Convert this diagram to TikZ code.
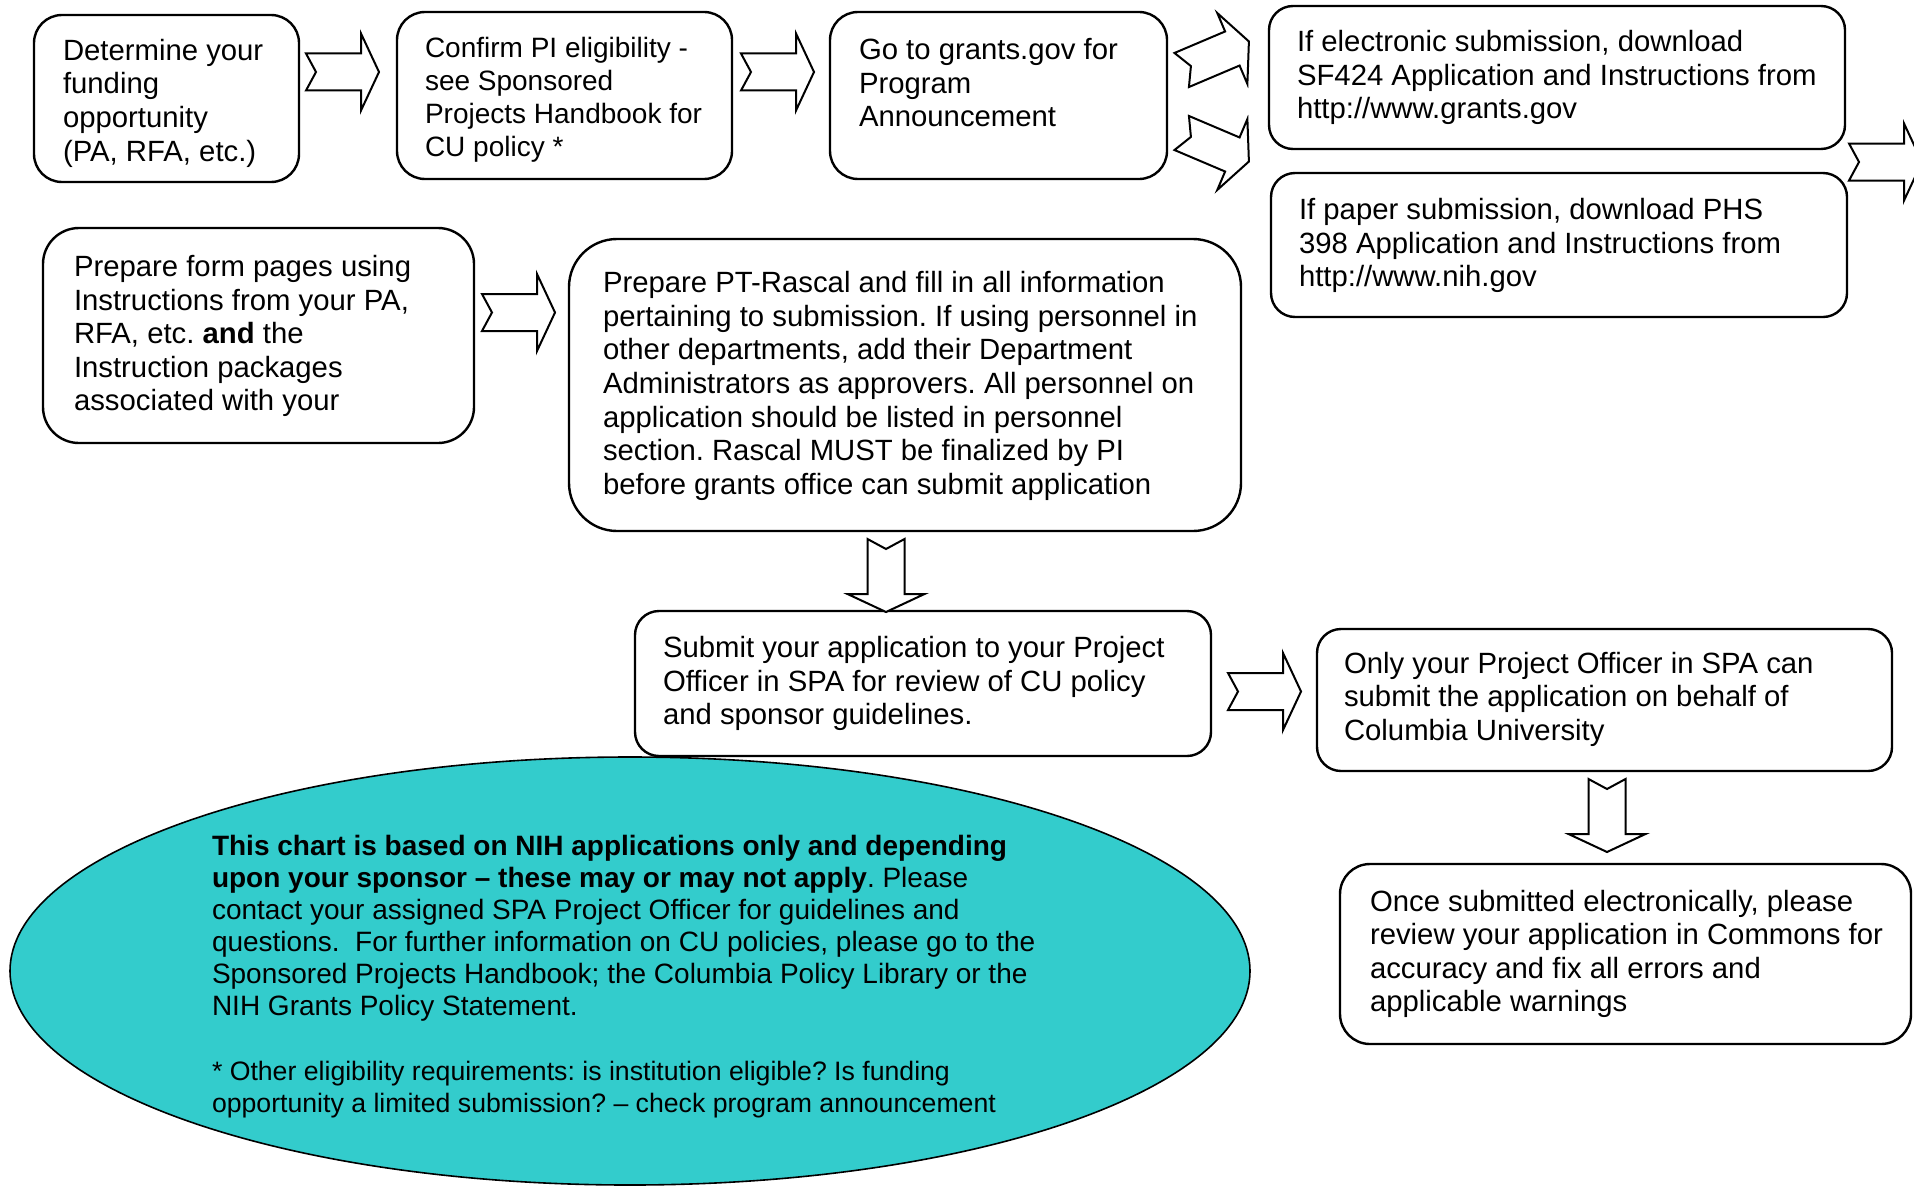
\documentclass[tikz,border=0pt]{standalone}
\usepackage{fontspec}
\setmainfont{Liberation Sans}
\usetikzlibrary{calc,fit,shapes.geometric}
\definecolor{noteteal}{RGB}{51,204,204}
\begin{document}
\frenchspacing
\begin{tikzpicture}[x=0.5pt,y=-0.5pt,
  box/.style={draw, line width=1.2pt, inner sep=0pt, outer sep=0pt},
  txt/.style={anchor=north west, inner sep=0pt, outer sep=0pt, align=left,
    font=\fontsize{14.65}{16.8}\selectfont},
  smalltxt/.style={txt, font=\fontsize{14}{16.5}\selectfont},
  notetxt/.style={anchor=north west, inner sep=0pt, outer sep=0pt, align=left,
    font=\fontsize{14}{15.95}\selectfont},
  foottxt/.style={notetxt, font=\fontsize{13.33}{15.9}\selectfont},
  blockarrow/.pic={\draw[line width=1pt, line join=miter, fill=white]
    (0,-18.5) -- (55,-18.5) -- (55,-38.5) -- (73,0) -- (55,38.5) -- (55,18.5)
    -- (0,18.5) -- (10,0) -- cycle;}]
\fill[white] (0,0) rectangle (1914,1188);
\useasboundingbox (0,0) rectangle (1914,1188);

% boxes
\node[box, rounded corners=14pt, fit={(34,15)(299,182)}] (b1) {};
\node[box, rounded corners=14pt, fit={(397,12)(732,179)}] (b2) {};
\node[box, rounded corners=14pt, fit={(830,12)(1167,179)}] (b3) {};
\node[box, rounded corners=12pt, fit={(1269,6)(1845,149)}] (b4) {};
\node[box, rounded corners=12pt, fit={(1271,173)(1847,317)}] (b5) {};
\node[box, rounded corners=18pt, fit={(43,228)(474,443)}] (b6) {};
\node[box, rounded corners=24pt, fit={(569,239)(1241,531)}] (b7) {};
\node[box, rounded corners=12pt, fit={(635,611)(1211,756)}] (b8) {};
\node[box, rounded corners=12pt, fit={(1317,629)(1892,771)}] (b9) {};
\node[box, rounded corners=15pt, fit={(1340,864)(1911,1044)}] (b10) {};

% texts
\node[txt] (t1) at ($(b1.north west)+(29,24)$) {Determine your\\funding\\opportunity\\(PA, RFA, etc.)};
\node[smalltxt] (t2) at ($(b2.north west)+(28,25.2)$) {Confirm PI eligibility -\\see Sponsored\\Projects Handbook for\\CU policy *};
\node[txt] (t3) at ($(b3.north west)+(29,26.2)$) {Go to grants.gov for\\Program\\Announcement};
\node[txt] (t4) at ($(b4.north west)+(28,24.2)$) {If electronic submission, download\\SF424 Application and Instructions from\\http://www.grants.gov};
\node[txt] (t5) at ($(b5.north west)+(28,25.2)$) {If paper submission, download PHS\\398 Application and Instructions from\\http://www.nih.gov};
\node[txt] (t6) at ($(b6.north west)+(31,27.2)$) {Prepare form pages using\\Instructions from your PA,\\RFA, etc. \textbf{and} the\\Instruction packages\\associated with your};
\node[txt] (t7) at ($(b7.north west)+(34,32.5)$) {Prepare PT-Rascal and fill in all information\\pertaining to submission. If using personnel in\\other departments, add their Department\\Administrators as approvers. All personnel on\\application should be listed in personnel\\section. Rascal MUST be finalized by PI\\before grants office can submit application};
\node[txt] (t8) at ($(b8.north west)+(28,25.2)$) {Submit your application to your Project\\Officer in SPA for review of CU policy\\and sponsor guidelines.};
\node[txt] (t9) at ($(b9.north west)+(27,22.9)$) {Only your Project Officer in SPA can\\submit the application on behalf of\\Columbia University};
\node[txt] (t10) at ($(b10.north west)+(30,25.9)$) {Once submitted electronically, please\\review your application in Commons for\\accuracy and fix all errors and\\applicable warnings};

% block arrows
\pic at (306,72) {blockarrow};
\pic at (741,72) {blockarrow};
\pic[rotate=23] at (1181.7,70) {blockarrow};
\pic[rotate=-23] at (1181.7,133) {blockarrow};
\pic at (1849,162) {blockarrow};
\pic at (482,312.5) {blockarrow};
\pic[rotate=-90] at (886,539) {blockarrow};
\pic at (1228,691.5) {blockarrow};
\pic[rotate=-90] at (1607,779) {blockarrow};

% note ellipse
\node[ellipse, draw, fill=noteteal, line width=0.8pt, inner sep=0pt, outer sep=0pt,
  minimum width=620pt, minimum height=214pt] (note) at (630,971) {};
\node[notetxt] (nt) at ($(note.west)+(202,-135.5)$) {\textbf{This chart is based on NIH applications only and depending}\\
\textbf{upon your sponsor -- these may or may not apply}. Please\\
contact your assigned SPA Project Officer for guidelines and\\
questions.\ \ For further information on CU policies, please go to the\\
Sponsored Projects Handbook; the Columbia Policy Library or the\\
NIH Grants Policy Statement.};
\node[foottxt] (nf) at ($(note.west)+(202,90)$) {* Other eligibility requirements: is institution eligible? Is funding\\
opportunity a limited submission? -- check program announcement};
\end{tikzpicture}
\end{document}
